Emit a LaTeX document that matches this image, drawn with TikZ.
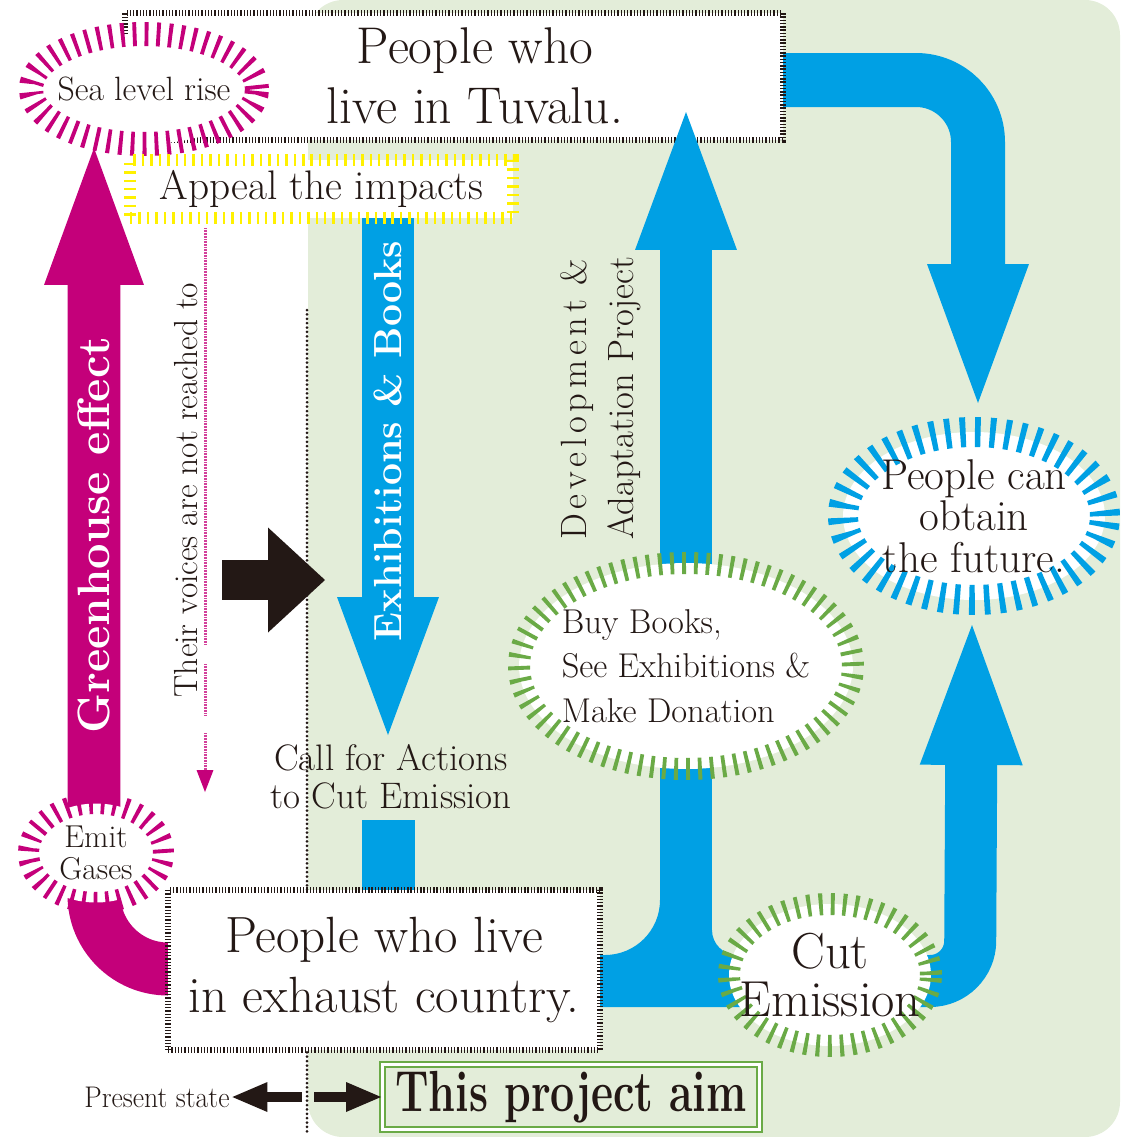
\documentclass[tikz,border=0pt]{standalone}
\usepackage{fontspec}
\usepackage{graphicx}
\usetikzlibrary{shapes.geometric, arrows.meta}
\definecolor{tuvInk}{RGB}{35,24,21}
\definecolor{tuvMag}{RGB}{196,0,122}
\definecolor{tuvBlue}{RGB}{0,160,228}
\definecolor{tuvGreen}{RGB}{106,170,70}
\definecolor{tuvPale}{RGB}{227,237,217}
\definecolor{tuvYellow}{RGB}{255,241,0}
\xdef\ColorInk{tuvInk}
\xdef\ColorMag{tuvMag}
\xdef\ColorBl{tuvBlue}
\xdef\ColorGr{tuvGreen}
\xdef\ColorPale{tuvPale}
\xdef\ColorYel{tuvYellow}
\tikzset{
 txt/.style={text=\ColorInk, inner sep=0pt, align=center},
 hatchbox/.style={rectangle, fill=white, draw=\ColorInk, line width=0.12cm, dash pattern=on 0.75pt off 1.1pt, inner sep=0pt, text=\ColorInk, align=center},
 ring/.style={ellipse, inner sep=-1.5cm, fill=white, line width=#1, dash pattern=on 2.2pt off 4.6pt, text=\ColorInk, align=center},
 bighead/.style 2 args={-{Triangle[length=#1, width=#2, line width=0pt]}},
 dotline/.style={\ColorInk, line width=0.06cm, dash pattern=on 0pt off 2.5pt, line cap=round},
 voiceline/.style={\ColorMag!75, line width=0.06cm, dash pattern=on 0.5pt off 0.4pt},
 aimbox/.style={draw=\ColorGr, line width=0.04cm, double=white, double distance=0.06cm, inner sep=0pt, text=\ColorInk}
}
\begin{document}
\begin{tikzpicture}[x=0.02cm, y=-0.02cm]
\useasboundingbox (0,0) rectangle (1128,1137);
\fill[\ColorPale, rounded corners=0.7cm] (308,0) rectangle (1120,1137);
\coordinate (gasfoot) at (168,969);
\coordinate (seafoot) at (94,148);
\coordinate (tuvout) at (783,80);
\coordinate (futuretop) at (978,403);
\coordinate (exhtop) at (388,215);
\coordinate (exhtip) at (388,735);
\coordinate (voicebase) at (222,580);
\coordinate (voicetip) at (325,580);
\coordinate (cutout) at (600,981);
\coordinate (cuttip) at (972,625);
\coordinate (devfoot) at (686,981);
\coordinate (devtip) at (686,112);
\coordinate (splitL) at (302,1097);
\coordinate (splitR) at (314,1097);
\draw[dotline] (307,310) -- (307,1132);
\draw[voiceline] (205,228) -- (205,645) (205,664) -- (205,716);
\draw[voiceline, -{Triangle[length=0.44cm, width=0.34cm, line width=0pt, fill=\ColorMag]}] (205,733) -- (205,792);
\draw[\ColorMag, line width=1.06cm, rounded corners=1.48cm, bighead={2.74cm}{2cm}] (gasfoot) -- (94,969) -- (seafoot);
\draw[\ColorBl, line width=1.08cm, rounded corners=1.24cm, bighead={2.78cm}{2.04cm}] (tuvout) -- (978,80) -- (futuretop);
\node[hatchbox, minimum width=13.16cm, minimum height=2.54cm] (tuvalu) at (454,76.5) {};
\node[txt, font=\fontsize{29.4}{34}\selectfont] (tuvalutext) at (475,76) {People who\\live in Tuvalu.};
\node[ring=0.48cm, draw=\ColorMag, minimum width=4.52cm, minimum height=2.2cm, font=\fontsize{19.2}{20}\selectfont] (sea) at (144,89) {Sea level rise};
\draw[\ColorBl, line width=1.06cm, bighead={2.76cm}{2.04cm}] (exhtop) -- (exhtip);
\node[hatchbox, draw=\ColorYel, line width=0.24cm, dash pattern=on 1.4pt off 3.4pt, minimum width=7.66cm, minimum height=1.16cm, font=\fontsize{23.5}{24}\selectfont] (appeal) at (321.5,189) {Appeal the impacts};
\draw[\ColorInk, line width=0.8cm, bighead={1.14cm}{2.1cm}] (voicebase) -- (voicetip);
\fill[\ColorBl] (362,820) rectangle (415,890);
\draw[\ColorBl, line width=1.04cm, rounded corners=0.8cm, bighead={2.8cm}{2.06cm}] (cutout) -- (970,981) -- (cuttip);
\draw[\ColorBl, line width=1.04cm, bighead={2.76cm}{2.04cm}] (devfoot) -- (devtip);
\fill[\ColorBl] (660,900) -- (660,955) -- (605,955) .. controls (635.4,955) and (660,930.4) .. cycle;
\fill[\ColorBl] (712,930) -- (712,955) -- (737,955) .. controls (723.2,955) and (712,943.8) .. cycle;
\node[hatchbox, minimum width=8.64cm, minimum height=3.2cm, font=\fontsize{29}{34}\selectfont] (exhaust) at (384,970) {People who live\\in exhaust country.};
\node[ring=0.42cm, draw=\ColorMag, minimum width=2.7cm, minimum height=1.98cm, font=\fontsize{18}{18.5}\selectfont] (emit) at (96,853) {Emit\\Gases};
\node[ring=0.44cm, draw=\ColorGr, minimum width=6.68cm, minimum height=4.12cm, align=left, font=\fontsize{19.6}{25.2}\selectfont] (buy) at (686,666) {Buy Books,\\See Exhibitions \&\\Make Donation};
\node[ring=0.44cm, draw=\ColorGr, minimum width=4.04cm, minimum height=2.84cm, font=\fontsize{28.8}{27.8}\selectfont] (cut) at (830,975) {Cut\\Emission};
\node[ring=0.6cm, draw=\ColorBl, dash pattern=on 3.2pt off 5.3pt, minimum width=5.24cm, minimum height=3.36cm, font=\fontsize{24.5}{23.5}\selectfont] (future) at (974,516) {People can\\obtain\\the future.};
\node[txt, rotate=90, font=\fontsize{19}{20}\selectfont] (voices) at (186,490) {Their voices are not reached to};
\node[txt, rotate=90, text=white, font=\fontsize{25.8}{26}\selectfont\bfseries] (greenhouse) at (94,535) {Greenhouse effect};
\node[txt, rotate=90, text=white, font=\fontsize{22.3}{24}\selectfont\bfseries] (exhibit) at (388,441) {Exhibitions \& Books};
\node[txt, rotate=90, align=left, font=\fontsize{20.8}{26.6}\selectfont] (devlabel) at (601,398) {\makebox[5.6cm][s]{D\hfil e\hfil v\hfil e\hfil l\hfil o\hfil p\hfil m\hfil e\hfil n\hfil t\hfil\hfil\hfil\&}\\Adaptation Project};
\node[txt, font=\fontsize{21}{21.5}\selectfont] (call) at (391,777) {Call for Actions\\to Cut Emission};
\node[txt, inner sep=0.05cm, font=\fontsize{17}{17}\selectfont] (present) at (157,1097) {\scalebox{0.93}[1]{Present state}};
\node[aimbox, minimum width=7.56cm, minimum height=1.3cm] (aim) at (571,1097) {\scalebox{0.74}[1]{\fontsize{33}{33}\selectfont\bfseries This project aim}};
\draw[\ColorInk, line width=0.2cm, bighead={0.7cm}{0.6cm}] (splitL) -- (present);
\draw[\ColorInk, line width=0.2cm, bighead={0.7cm}{0.6cm}] (splitR) -- (aim);
\end{tikzpicture}
\end{document}
